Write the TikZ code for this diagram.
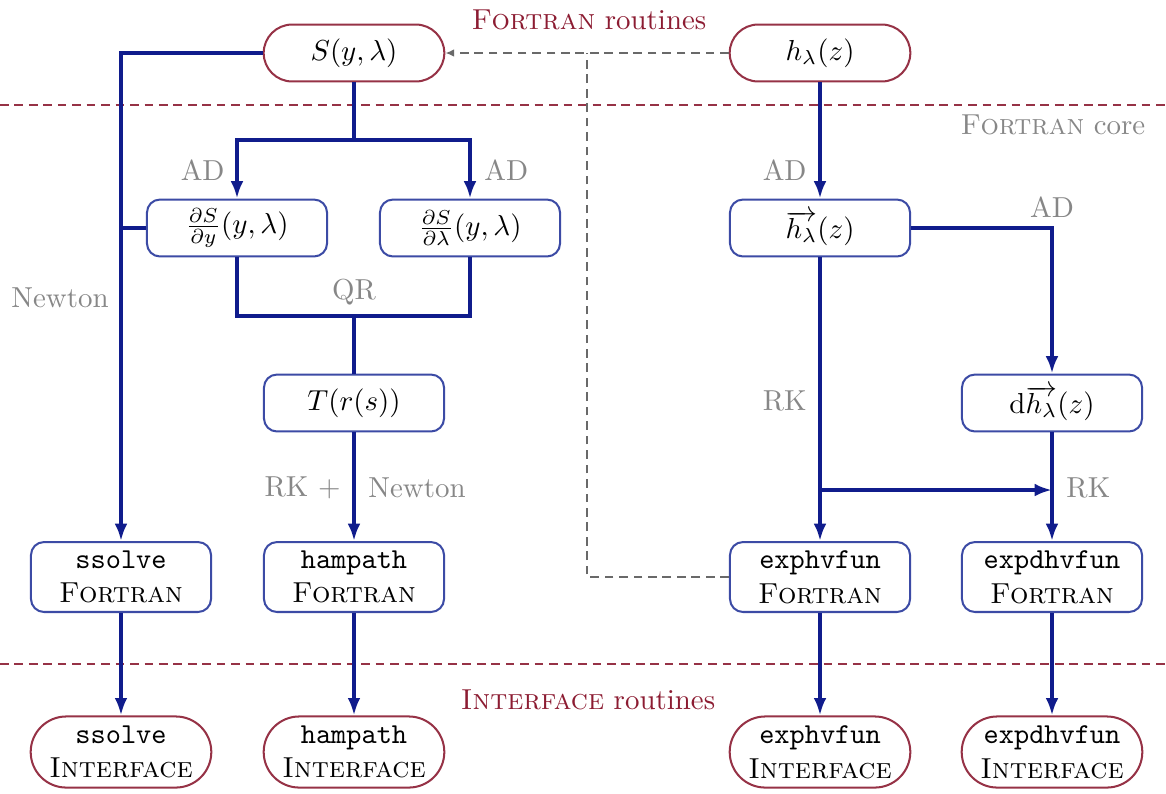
\documentclass[tikz,border=0pt]{standalone}
\usetikzlibrary{shapes.misc,arrows.meta,calc}
\definecolor{lineblue}{RGB}{16,28,140}
\definecolor{boxblue}{RGB}{60,75,165}
\definecolor{boxred}{RGB}{150,50,70}
\definecolor{textred}{RGB}{140,28,50}
\definecolor{labgray}{RGB}{135,135,135}
\definecolor{dashgray}{RGB}{105,105,105}
\begin{document}
\begin{tikzpicture}[x=0.346pt,y=-0.346pt,
  corebox/.style={draw=boxblue,line width=0.7pt,rounded corners=4.5pt,minimum width=62.3pt,minimum height=19.7pt,align=center,fill=white,inner sep=2pt},
  fortbox/.style={corebox,minimum height=24.2pt},
  routine/.style={draw=boxred,line width=0.7pt,rounded rectangle,minimum width=66.5pt,minimum height=19.7pt,align=center,fill=white,inner sep=2pt},
  iface/.style={routine,minimum height=24.6pt},
  flow/.style={draw=lineblue,line width=1.2pt},
  arr/.style={flow,-{Latex[length=6pt,width=4.4pt]}},
  lab/.style={text=labgray,inner sep=1pt},
  sep/.style={draw=boxred,line width=0.45pt,dash pattern=on 3pt off 2pt},
  dep/.style={draw=dashgray,line width=0.6pt,dash pattern=on 3pt off 2pt}
]
\useasboundingbox (0,0) rectangle (1166,793);

% separators and region labels
\coordinate (sepAl) at (0,105);
\coordinate (sepAr) at (1166,105);
\coordinate (sepBl) at (0,664);
\coordinate (sepBr) at (1166,664);
\draw[sep] (sepAl) -- (sepAr);
\draw[sep] (sepBl) -- (sepBr);
\node[text=textred] (tRout) at (589,20) {\textsc{Fortran} routines};
\node[text=labgray] (tCore) at (1053,125) {\textsc{Fortran} core};
\node[text=textred] (tIface) at (588,700) {\textsc{Interface} routines};

% nodes
\node[routine] (S) at (354,53) {$S(y,\lambda)$};
\node[routine] (h) at (820,53) {$h_\lambda(z)$};
\node[corebox] (dSy) at (237,228) {$\frac{\partial S}{\partial y}(y,\lambda)$};
\node[corebox] (dSl) at (470,228) {$\frac{\partial S}{\partial \lambda}(y,\lambda)$};
\node[corebox] (hv) at (820,228) {$\overrightarrow{h_\lambda}(z)$};
\node[corebox] (T) at (354,403) {$T(r(s))$};
\node[corebox] (dh) at (1052,403) {$\mathrm{d}\overrightarrow{h_\lambda}(z)$};
\node[fortbox] (fs) at (121,577) {\texttt{ssolve}\\\textsc{Fortran}};
\node[fortbox] (fh) at (354,577) {\texttt{hampath}\\\textsc{Fortran}};
\node[fortbox] (fe) at (820,577) {\texttt{exphvfun}\\\textsc{Fortran}};
\node[fortbox] (fd) at (1052,577) {\texttt{expdhvfun}\\\textsc{Fortran}};
\node[iface] (is) at (121,752) {\texttt{ssolve}\\\textsc{Interface}};
\node[iface] (ih) at (354,752) {\texttt{hampath}\\\textsc{Interface}};
\node[iface] (ie) at (820,752) {\texttt{exphvfun}\\\textsc{Interface}};
\node[iface] (id) at (1052,752) {\texttt{expdhvfun}\\\textsc{Interface}};

% helper coordinates
\coordinate (nl) at (121,53);
\coordinate (nj) at (121,228);
\coordinate (adS) at (354,140);
\coordinate (qr) at (354,316);
\coordinate (hvc) at (1052,228);
\coordinate (rkj) at (820,490);
\coordinate (rke) at (1052,490);
\coordinate (dpt) at (587,53);
\coordinate (dpb) at (587,577);

% left part
\draw[arr] (S.west) -- (nl) -- (fs.north);
\draw[flow] (dSy.west) -- (nj);
\draw[flow] (S.south) -- (adS);
\draw[arr] (adS) -| (dSy.north);
\draw[arr] (adS) -| (dSl.north);
\draw[flow] (dSy.south) |- (qr);
\draw[flow] (dSl.south) |- (qr);
\draw[flow] (qr) -- (T.north);
\draw[arr] (T.south) -- (fh.north);

% right part
\draw[arr] (h.south) -- (hv.north);
\draw[arr] (hv.east) -- (hvc) -- (dh.north);
\draw[arr] (hv.south) -- (fe.north);
\draw[arr] (dh.south) -- (fd.north);
\draw[arr] (rkj) -- (rke);

% interface arrows
\draw[arr] (fs.south) -- (is.north);
\draw[arr] (fh.south) -- (ih.north);
\draw[arr] (fe.south) -- (ie.north);
\draw[arr] (fd.south) -- (id.north);

% dependency dashed
\draw[dep,-{Latex[length=3pt,width=2.6pt]}] (h.west) -- (S.east);
\draw[dep] (fe.west) -- (dpb) -- (dpt);

% labels
\node[lab,anchor=east] (l1) at (228,170) {AD};
\node[lab,anchor=west] (l2) at (481,170) {AD};
\node[lab] (l3) at (60,298) {Newton};
\node[lab] (l4) at (354,292) {QR};
\node[lab,anchor=east] (l5) at (344,488) {RK +};
\node[lab,anchor=west] (l6) at (365,488) {Newton};
\node[lab,anchor=east] (l7) at (810,170) {AD};
\node[lab] (l8) at (1052,207) {AD};
\node[lab,anchor=east] (l9) at (810,401) {RK};
\node[lab,anchor=west] (l10) at (1063,488) {RK};
\end{tikzpicture}
\end{document}
